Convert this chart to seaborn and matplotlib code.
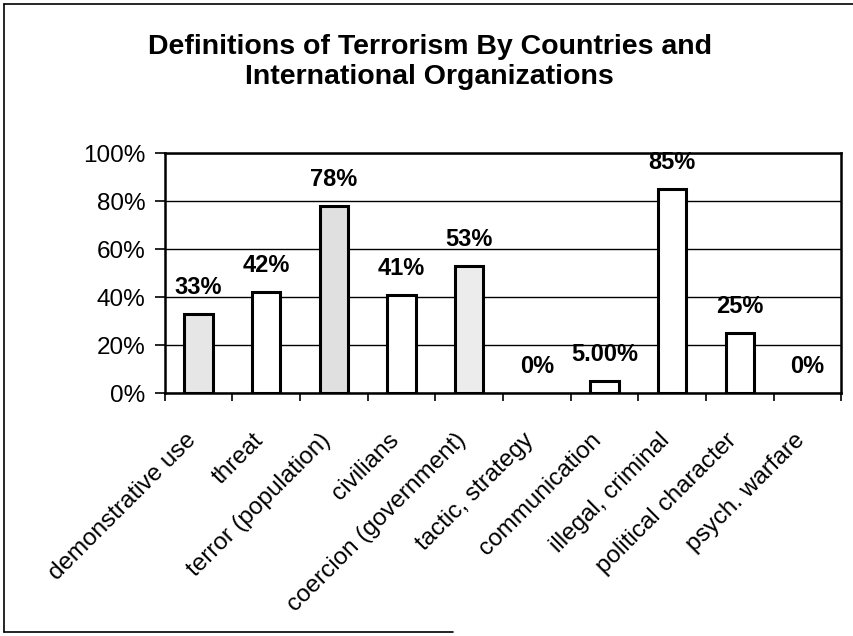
import numpy as np
import pandas as pd
import matplotlib.pyplot as plt
import matplotlib.transforms as mtransforms
import seaborn as sns

# -------------------------------------
# DATA
# -------------------------------------
categories = [
    "demonstrative use", "threat", "terror (population)", "civilians",
    "coercion (government)", "tactic, strategy", "communication",
    "illegal, criminal", "political character", "psych. warfare",
]
values = [0.33, 0.42, 0.78, 0.41, 0.53, 0.0, 0.05, 0.85, 0.25, 0.0]
value_labels = ["33%", "42%", "78%", "41%", "53%", "0%", "5.00%", "85%", "25%", "0%"]
y_ticks = [0, 0.2, 0.4, 0.6, 0.8, 1.0]
y_tick_labels = ["0%", "20%", "40%", "60%", "80%", "100%"]

# stippled (light gray) vs plain white bars
fills = ["#e6e6e6", "white", "#e0e0e0", "white", "#ececec",
         "white", "white", "white", "white", "white"]

df = pd.DataFrame({"category": categories, "value": values})

# -------------------------------------
# PLOT
# -------------------------------------
sns.set_style("white")
plt.rcParams["font.family"] = ["Liberation Sans", "DejaVu Sans"]
plt.rcParams["text.color"] = "black"
plt.rcParams["xtick.color"] = "black"
plt.rcParams["ytick.color"] = "black"

fig = plt.figure(figsize=(8.54, 6.36), dpi=100)
ax = fig.add_axes([0.193, 0.382, 0.792, 0.377])

sns.barplot(data=df, x="category", y="value", hue="category",
            palette=fills, legend=False, width=0.42,
            edgecolor="black", linewidth=2.2, ax=ax)

# zero-height bars leave no outline in the original
for p in ax.patches:
    if p.get_height() == 0:
        p.set_linewidth(0)

ax.set_ylim(0, 1.0)
ax.set_xlim(-0.5, len(categories) - 0.5)
ax.set_yticks(y_ticks)
ax.set_yticklabels(y_tick_labels, fontsize=17.5)
ax.yaxis.grid(True, color="black", linewidth=1)
ax.set_axisbelow(True)
for s in ax.spines.values():
    s.set_visible(True)
    s.set_color("black")
    s.set_linewidth(1.8)

# ticks at category boundaries, labels at centres
ax.set_xticks(np.arange(len(categories)))
ax.set_xticklabels(categories, rotation=45, ha="right", va="top",
                   rotation_mode="anchor", fontsize=17.5)
ax.set_xticks(np.arange(len(categories) + 1) - 0.5, minor=True)
ax.tick_params(axis="x", which="major", length=0, pad=0)
ax.tick_params(axis="x", which="minor", length=6, width=1.2,
               direction="out", bottom=True)
ax.tick_params(axis="y", length=7, width=1.2, direction="out", left=True, pad=7)
ax.set_xlabel("")
ax.set_ylabel("")

shift = mtransforms.ScaledTranslation(-14 / 100, -36 / 100, fig.dpi_scale_trans)
for lab in ax.get_xticklabels():
    lab.set_transform(lab.get_transform() + shift)

for i, (v, lab) in enumerate(zip(values, value_labels)):
    ax.annotate(lab, (i, v), xytext=(0, 19), textcoords="offset points",
                ha="center", va="center", fontsize=17, fontweight="bold")

fig.text(0.503, 0.903, "Definitions of Terrorism By Countries and\nInternational Organizations",
         ha="center", va="center", fontsize=20.5, fontweight="bold",
         linespacing=1.2)

# scanned frame edges
fig.add_artist(plt.Line2D([0.005, 0.005], [0.006, 0.994], color="black", linewidth=1.2))
fig.add_artist(plt.Line2D([0.005, 1.0], [0.994, 0.994], color="black", linewidth=1.2))
fig.add_artist(plt.Line2D([0.005, 0.53], [0.006, 0.006], color="black", linewidth=1.2))

fig.savefig("out.png", dpi=100)
